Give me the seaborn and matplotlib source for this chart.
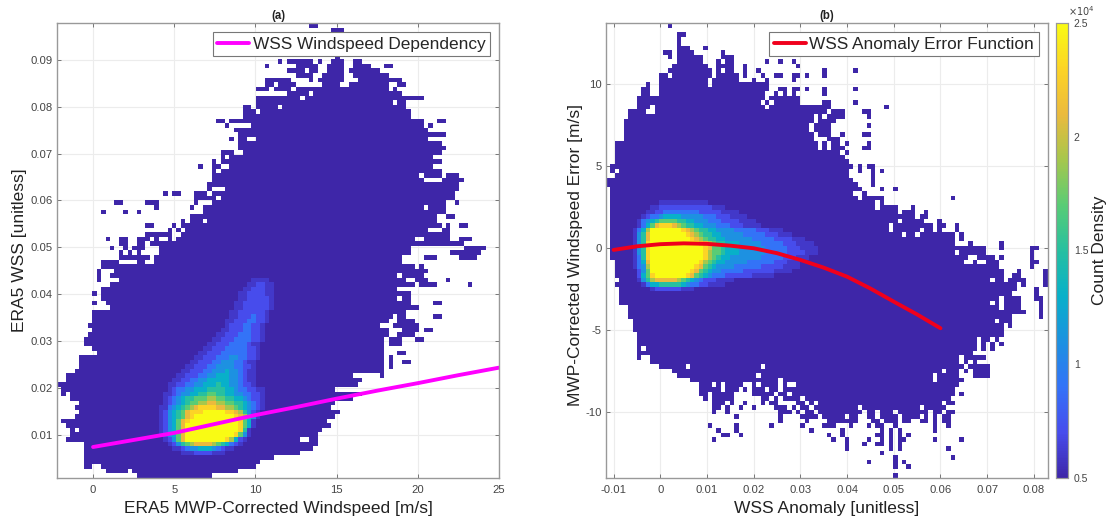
#!/usr/bin/env python
# coding=utf-8

import numpy as np
import pandas as pd
import matplotlib
matplotlib.use('Agg')
import matplotlib.pyplot as plt
from matplotlib.colors import LinearSegmentedColormap
import seaborn as sns

# occupied bins of each 100x100 histogram, top row first, "first-last" bin runs
WSS_ROWS = [
    "57-58", "62-64", "63", "63", "63", "63", "63", "63",
    "50 52-57 59 62-64 67-68", "47 54-58 61-64 67-70 74-75",
    "52-55 57-58 61-64 66-72", "54-57 60-64 67-74", "47-52 57 59-64 68-77",
    "47-48 50-53 60-63 66-74 77-78", "45-47 49-52 54-74 76", "52-56 58-77",
    "45-54 56-82", "45-75 77-78", "42-43 45-49 51-78", "42-44 46-79",
    "42-44 45-79", "36-37 39-82 86-87", "38 44-82 84", "40-83",
    "41-83 84-87", "39 41-42 45-83", "41-86", "41-87", "37-39 42-86",
    "37 39-84", "35 37-86", "32 35-36 39-84", "35 37-86",
    "35-81 83-86 88-90", "35-82 87-91", "34-90", "34 38-90",
    "24 26-27 31-33 35-89", "31-35 37-89", "13-14 20-22 31 35-87 90",
    "22 30 33-82 84-87", "10 15 18 33-87", "30-85 88-89", "28 30-32 34-85",
    "20-21 26 28-86 88 91-92", "25 27 29-83 87-88", "20-25 28-88",
    "11 14-15 18-20 22 25 27-80 83-88 91-93", "14-15 18-19 21-91",
    "12 15 17-19 23-79 92-96", "14 16 18 23-79 89-90 91-95",
    "14-17 18-20 22-77 83-85 91-94", "10-13 18-19 22-77", "10-80 82",
    "9 13-83", "9 12-76 78-82", "9 14-78 81-83 88", "12-80 82-85 93",
    "10-76", "8 10-79", "10-76 78-79", "8 11-79 85-86", "12-81", "8-78",
    "8-75 77-78 85-86", "8-74 77-80", "7-72 76-81", "8-74 78-81 83-84",
    "7-74 77-80", "6-73 75-77 81-82", "6-73 75-77", "8-73", "9-73 77-78",
    "5-73 75", "5-73 75 78-79", "5-73 75", "4-73", "2-66 73", "2-68",
    "0-67", "1-62", "1 3-68", "3-66", "5-62", "4-61", "5-63", "4-62",
    "1-60", "2-61", "3 5-59", "3-58", "2-54 57-58", "6-58", "6-57", "6-54",
    "6-48", "6-45", "6-7 10-44", "11-15 17-40", "18-34",
]

ERR_ROWS = [
    "14", "", "16-17", "16", "16", "16-18 22", "13-14 16-19 26",
    "14 16-21 26-28", "16-21 25 27-28 36 39 42", "15-22 25-28 31 43",
    "14-23 25 27-28 31 34 49 56", "12-13 15-23 25-29 31 35 38-39 42-43 45 49",
    "12-22 24-29 33 36 42", "9 12-22 24-36", "8-9 12-36 39-40 42-43 45 49 56",
    "8-9 12-35 38 40 42 49", "7-35 37-43", "7-34 36 38-43 49-50 56",
    "7-9 11-35 37-50 63", "5-8 11-49 51-53 58-59", "5-46 48 50-53 59",
    "4-46 48-51", "4-45 47-50 59", "4-45 47-50", "4-46 48-50 53 58-59",
    "4-46 50-52", "2-47 49 51-52 54 59", "2-47 49 51-53 58-59", "2-52 54",
    "2-53", "2-54", "1-55 57 59-60", "1 3-54 57 60 62", "2-54 60", "0-55 60",
    "0-56 60", "1-57 62 65", "1-55 58", "1-56 58-62 78", "1-60 62",
    "1-60 62-65 69", "1-65 67-69 72", "1-69 71-72", "1-65 67-71 75",
    "1-63 65-73 75-76 79", "1-63 65-70 72-73 75 79", "1-66 68-69 71-78 80",
    "1-78 80", "1-78 82 89", "1-84 85 89 96-97", "1-78 80-85 96",
    "1-81 84-87 89 96", "2-80 83 86-88 96-97", "2-88 96", "2-89 93 99",
    "2-89 92-93 99", "3-86 88-89 91-94 99", "2-92 94 99", "3-92 97", "3-91 97",
    "3-88 90-93 97-98", "3-86 88 90-93 98", "5-88 90-93 98", "5-94 98",
    "5-91 98", "6-87 89-91", "6-89 91", "6-89", "7-89", "7-83 85-86 88",
    "7-83 85 87 89", "7 9-83 85 87", "7-82", "7 10-79 81-85", "10-79 81 83",
    "12-17 19-34 36-80 82-86", "15-75 77-79 81 83-86", "16-33 35-73 75-79 83-86",
    "19-38 40-73 75-80", "21-23 25 27-30 33 35-38 40 43-79",
    "21-25 27-29 31 33-35 37-38 40-78", "21-22 24-28 33-37 39-40 42-78 80",
    "22 24-28 35-36 38 40-43 45-77", "24-26 28 31 35 37-38 43-44 46 48-75 77-78",
    "24-25 27 30 33 38-40 42 44-45 47-56 58-70 72-76",
    "24 27 39-41 43 45-46 48-57 59-60 62-64 66-72 74-75 77-78",
    "29 39 44-47 49-53 55-56 59-60 62-65 67-70 72 74 76-77",
    "39 45 50-56 60-61 63-65 67-68 71-72 74 76-77",
    "23 29 37 44 49-51 55 59 61-62 65 74 77", "25 29 46 53 62 64 66 74",
    "26-27 30 50 53 61-62 64 66 68", "24 51 54 59 62 64 66-67 74 80",
    "54 58 61-62 64 66", "54 64 66 77", "62", "65 78", "59 65 67", "65 68",
    "", "65",
]

# hot cells: (row, first bin, levels), 0 is 6000 counts, 1-9 and A step 2000 above 5000
WSS_HOT = [
    (56, 44, "0000"), (57, 43, "001100"), (58, 42, "0011100"), (59, 41, "00111100"),
    (60, 41, "00111110"), (61, 40, "001111110"), (62, 40, "001111110"),
    (63, 39, "001111110"), (64, 39, "001112110"), (65, 38, "0011122110"),
    (66, 38, "011122110"), (67, 37, "0011122110"), (68, 36, "00111222110"),
    (69, 35, "001112222110"), (70, 34, "001112222100"), (71, 33, "0011122222110"),
    (72, 32, "00111222222110"), (73, 31, "001112223322110"),
    (74, 30, "001112233322100"), (75, 29, "0011122333322110"),
    (76, 28, "00111223334332100"), (77, 27, "001112233444332100"),
    (78, 26, "0011223344444332100"), (79, 25, "00112233444544332110"),
    (80, 25, "0122334445555443221100"), (81, 24, "00123344556655443322110"),
    (82, 24, "01234556667766554432110"), (83, 24, "01234566778877665543210"),
    (84, 23, "002345678999988776543210"), (85, 23, "0134568999AAAAA99875310"),
    (86, 23, "01345689AAAAAAAAA987530"), (87, 23, "0134689AAAAAAAAAAA9640"),
    (88, 23, "013468AAAAAAAAAAAA9640"), (89, 23, "013468AAAAAAAAAAAA950"),
    (90, 23, "013468AAAAAAAAAAA9630"), (91, 24, "01368AAAAAAAAA97410"),
    (92, 25, "01356788887654210"), (93, 26, "00123344432100"), (94, 28, "0001111000"),
]

ERR_HOT = [
    (39, 12, "00000000000"), (40, 10, "00111111111111000"),
    (41, 9, "001122222222111110000"), (42, 8, "012234444333332221110000"),
    (43, 7, "023456666554433322211110000"), (44, 7, "0246899987655443332221110000"),
    (45, 6, "0247AAAAAAA98765544333322222111000"),
    (46, 6, "0358AAAAAAAA987655443333322222111000"),
    (47, 6, "0358AAAAAAAAA98765544333333222221111000"),
    (48, 6, "0359AAAAAAAAAAA98765544433333222221110000"),
    (49, 6, "0359AAAAAAAAAAAA98665444333333222221110000"),
    (50, 6, "0359AAAAAAAAAAAA97665444333333222221111000"),
    (51, 6, "0259AAAAAAAAAAAA976544333333322222111000"),
    (52, 6, "0248AAAAAAAAAAA97654433333222222111000"),
    (53, 6, "0237AAAAAAAAAA986543333222222111110000"),
    (54, 7, "136AAAAAAAAA98654332222211111110000"),
    (55, 7, "1469AAAAAAA98654322211111100000"),
    (56, 7, "0357888887654321110000"), (57, 8, "0244555554322110000"),
    (58, 10, "0111111000"),
]

wss_line_x = [0, 2.5, 5, 7.5, 10, 12.5, 15, 17.5, 20, 22.5, 25]
wss_line_y = [0.0075, 0.0090, 0.0105, 0.0124, 0.0143, 0.0160, 0.0178, 0.0195, 0.0211, 0.0228, 0.0244]
err_line_x = [-0.01, -0.005, 0, 0.005, 0.01, 0.015, 0.02, 0.025, 0.03, 0.035, 0.04, 0.045, 0.05, 0.055, 0.06]
err_line_y = [-0.1, 0.12, 0.25, 0.3, 0.27, 0.16, 0.0, -0.3, -0.71, -1.18, -1.73, -2.45, -3.25, -4.03, -4.87]

cbar_ticks = [5000, 10000, 15000, 20000, 25000]
cbar_labels = ['0.5', '1', '1.5', '2', '2.5']

parula = LinearSegmentedColormap.from_list('parula', [
    (0.2422, 0.1504, 0.6603), (0.2777, 0.30, 0.93), (0.20, 0.45, 0.97),
    (0.11, 0.57, 0.88), (0.03, 0.69, 0.79), (0.15, 0.75, 0.63),
    (0.35, 0.80, 0.46), (0.65, 0.78, 0.30), (0.92, 0.73, 0.24),
    (0.99, 0.83, 0.15), (0.977, 0.984, 0.08)])


def level_count(ch):
    if ch == '0':
        return 6000
    return 5000 + 2000 * int(ch, 16)


def cell_table(rows, hot, xlim, ylim):
    counts = np.zeros((100, 100))
    for i, row in enumerate(rows):
        for run in row.split():
            a, _, b = run.partition('-')
            counts[i, int(a):int(b or a) + 1] = 5000
    for i, first, levels in hot:
        for k, ch in enumerate(levels):
            counts[i, first + k] = level_count(ch)
    xe = np.linspace(xlim[0], xlim[1], 101)
    ye = np.linspace(ylim[1], ylim[0], 101)
    ii, jj = np.nonzero(counts)
    df = pd.DataFrame({'x': (xe[jj] + xe[jj + 1]) / 2,
                       'y': (ye[ii] + ye[ii + 1]) / 2,
                       'count': counts[ii, jj]})
    return df, xe, ye[::-1]


sns.set_theme(style='white')
plt.rcParams['font.family'] = ['Liberation Sans', 'DejaVu Sans']

W, H = 1112, 519
fig = plt.figure(figsize=(W / 100, H / 100), dpi=100)
ax1 = fig.add_axes([57 / W, 1 - 478 / H, 442 / W, 455 / H])
ax2 = fig.add_axes([606 / W, 1 - 478 / H, 441.7 / W, 455 / H])
cax = fig.add_axes([1055.7 / W, 1 - 478 / H, 12.6 / W, 455 / H])

xlim1, ylim1 = (-2.22, 25), (0.0009, 0.0978)
xlim2, ylim2 = (-0.01163, 0.08296), (-13.99, 13.72)

df1, xe1, ye1 = cell_table(WSS_ROWS, WSS_HOT, xlim1, ylim1)
df2, xe2, ye2 = cell_table(ERR_ROWS, ERR_HOT, xlim2, ylim2)

sns.histplot(df1, x='x', y='y', weights='count', bins=[xe1, ye1], thresh=0,
             cmap=parula, vmin=5000, vmax=25000, ax=ax1)
sns.histplot(df2, x='x', y='y', weights='count', bins=[xe2, ye2], thresh=0,
             cmap=parula, vmin=5000, vmax=25000, ax=ax2, cbar=True, cbar_ax=cax,
             cbar_kws={'ticks': cbar_ticks})
for ax in (ax1, ax2):
    ax.collections[0].set_clim(5000, 25000)

sns.lineplot(x=wss_line_x, y=wss_line_y, color='#ff00ff', lw=2.8, ax=ax1,
             label='WSS Windspeed Dependency')
sns.lineplot(x=err_line_x, y=err_line_y, color='#f0001c', lw=2.8, ax=ax2,
             label='WSS Anomaly Error Function')

grey = '#444444'
ax1.set(xlim=xlim1, ylim=ylim1, xticks=[0, 5, 10, 15, 20, 25],
        yticks=[0.01, 0.02, 0.03, 0.04, 0.05, 0.06, 0.07, 0.08, 0.09])
ax1.set_xticklabels(['0', '5', '10', '15', '20', '25'])
ax1.set_yticklabels(['0.01', '0.02', '0.03', '0.04', '0.05', '0.06', '0.07', '0.08', '0.09'])
ax2.set(xlim=xlim2, ylim=ylim2,
        xticks=[-0.01, 0, 0.01, 0.02, 0.03, 0.04, 0.05, 0.06, 0.07, 0.08],
        yticks=[-10, -5, 0, 5, 10])
ax2.set_xticklabels(['-0.01', '0', '0.01', '0.02', '0.03', '0.04', '0.05', '0.06', '0.07', '0.08'])
ax2.set_yticklabels(['-10', '-5', '0', '5', '10'])

ax1.set_xlabel('ERA5 MWP-Corrected Windspeed [m/s]', fontsize=12.5, color='#222222', labelpad=4)
ax1.set_ylabel('ERA5 WSS [unitless]', fontsize=12.5, color='#222222')
ax1.yaxis.set_label_coords(-0.068, 0.5)
ax2.set_xlabel('WSS Anomaly [unitless]', fontsize=12.5, color='#222222', labelpad=4)
ax2.set_ylabel('MWP-Corrected Windspeed Error [m/s]', fontsize=12.5, color='#222222')
ax2.yaxis.set_label_coords(-0.052, 0.49)
ax1.set_title('(a)', fontsize=8.3, fontweight='bold', pad=3, color='#222222')
ax2.set_title('(b)', fontsize=8.3, fontweight='bold', pad=3, color='#222222')

anchors = {ax1: (490, 32), ax2: (1039, 32)}
lefts = {ax1: 57, ax2: 606}
for ax in (ax1, ax2):
    ax.grid(True, color='#ececec', lw=0.8)
    ax.set_axisbelow(True)
    ax.tick_params(direction='in', length=3, width=0.7, color='#777777', labelcolor=grey,
                   labelsize=8.1, top=True, right=True, bottom=True, left=True)
    ax.tick_params(axis='y', pad=3)
    ax.tick_params(axis='x', pad=5)
    for s in ax.spines.values():
        s.set_visible(True)
        s.set_color('#999999')
        s.set_linewidth(1.0)
    px, py = anchors[ax]
    ax.legend(loc='upper right', bbox_to_anchor=((px - lefts[ax]) / 442, 1 - (py - 23) / 455),
              borderaxespad=0, fancybox=False, framealpha=1, edgecolor='#777777',
              fontsize=12.4, handlelength=1.85, handletextpad=0.2, borderpad=0.27)
    ax.get_legend().get_frame().set_linewidth(0.8)

cax.set_yticks(cbar_ticks)
cax.set_yticklabels(cbar_labels)
cax.tick_params(direction='in', length=3, width=0.7, color='#555555', labelcolor=grey,
                labelsize=7.5, pad=4, right=True, left=False)
cax.yaxis.set_ticks_position('right')
cax.set_ylabel('Count Density', fontsize=12.5, color='#222222')
cax.yaxis.set_label_position('right')
cax.yaxis.set_label_coords(2.9, 0.5)
cax.text(1.0, 1.012, r'$\times 10^4$', transform=cax.transAxes, fontsize=7, color=grey,
         va='bottom', ha='left', math_fontfamily='dejavusans')
for s in cax.spines.values():
    s.set_visible(True)
    s.set_color('#999999')
    s.set_linewidth(0.8)

fig.savefig('out.png', dpi=100, facecolor='white')
